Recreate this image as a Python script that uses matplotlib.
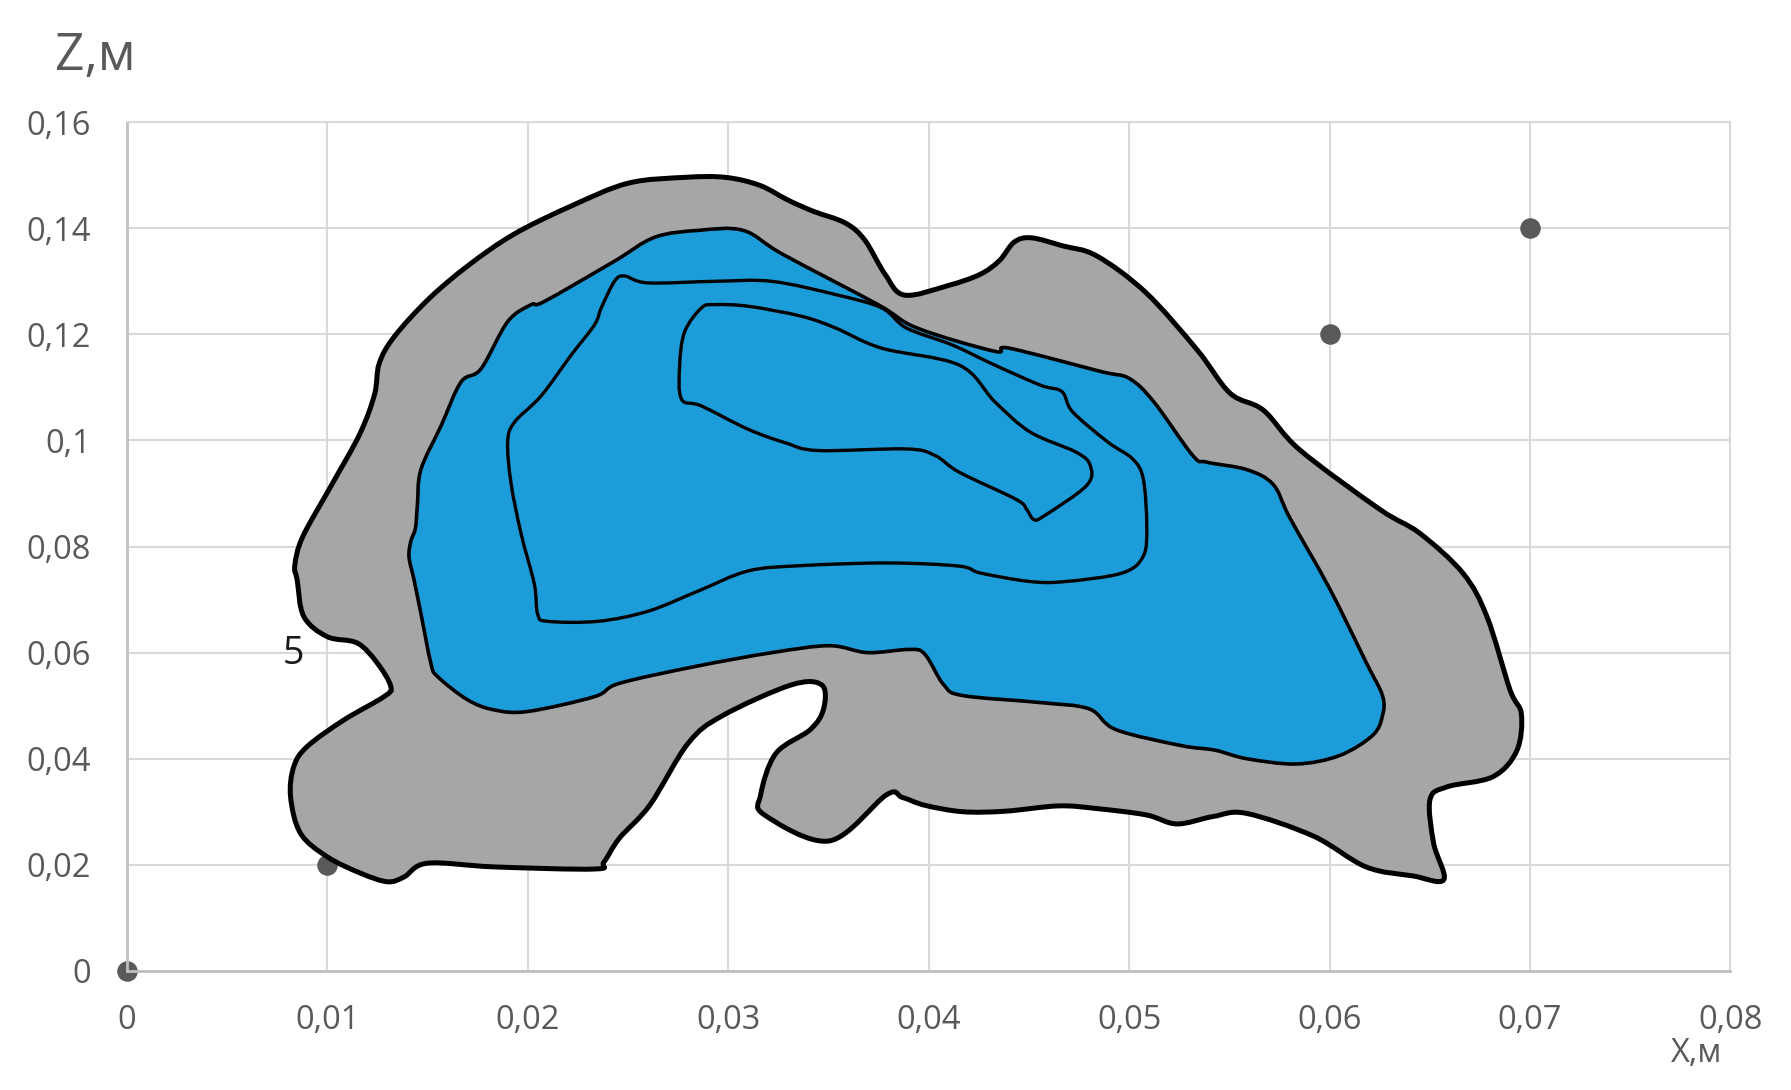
import matplotlib
matplotlib.use("Agg")
import matplotlib.pyplot as plt
from matplotlib.patches import PathPatch
from matplotlib.path import Path
import numpy as np

plt.rcParams['font.family'] = ['Open Sans', 'DejaVu Sans']

# x ticks / z ticks
x_ticks = [0, 0.01, 0.02, 0.03, 0.04, 0.05, 0.06, 0.07, 0.08]
x_labels = ['0', '0,01', '0,02', '0,03', '0,04', '0,05', '0,06', '0,07', '0,08']
z_ticks = [0, 0.02, 0.04, 0.06, 0.08, 0.10, 0.12, 0.14, 0.16]
z_labels = ['0', '0,02', '0,04', '0,06', '0,08', '0,1', '0,12', '0,14', '0,16']

# scatter points
pts_x = [0, 0.01, 0.06, 0.07]
pts_z = [0, 0.02, 0.12, 0.14]

# outer (gray) zone outline
gray_x = [0.00838, 0.00877, 0.01020, 0.01162, 0.01236, 0.01259, 0.01333, 0.01504,
          0.01704, 0.01932, 0.02217, 0.02501, 0.02786, 0.02986, 0.03157, 0.03299,
          0.03425, 0.03584, 0.03681, 0.03783, 0.03880, 0.04097, 0.04256, 0.04353,
          0.04427, 0.04513, 0.04667, 0.04838, 0.05083, 0.05339, 0.05504, 0.05670,
          0.05852, 0.06251, 0.06450, 0.06667, 0.06786, 0.06900, 0.06957, 0.06934,
          0.06815, 0.06587, 0.06501, 0.06519, 0.06570, 0.06416, 0.06182, 0.05920,
          0.05584, 0.05419, 0.05238, 0.05086, 0.04838, 0.04648, 0.04382, 0.04171,
          0.03983, 0.03869, 0.03790, 0.03505, 0.03181, 0.03162, 0.03238, 0.03410,
          0.03476, 0.03467, 0.03314, 0.02971, 0.02800, 0.02610, 0.02457, 0.02380,
          0.02333, 0.01833, 0.01500, 0.01383, 0.01300, 0.01167, 0.01000, 0.00867,
          0.00817, 0.00833, 0.00900, 0.01083, 0.01283, 0.01317, 0.01250, 0.01150,
          0.01000, 0.00883, 0.00850]
gray_z = [0.0764, 0.0818, 0.0915, 0.1012, 0.1087, 0.1145, 0.1195, 0.1266,
          0.1330, 0.1389, 0.1442, 0.1485, 0.1496, 0.1496, 0.1481, 0.1453,
          0.1432, 0.1410, 0.1378, 0.1313, 0.1274, 0.1292, 0.1313, 0.1339,
          0.1374, 0.1382, 0.1367, 0.1348, 0.1279, 0.1171, 0.1089, 0.1057,
          0.0982, 0.0870, 0.0825, 0.0749, 0.0667, 0.0530, 0.0484, 0.0415,
          0.0366, 0.0347, 0.0323, 0.0241, 0.0172, 0.0179, 0.0196, 0.0254,
          0.0297, 0.0291, 0.0277, 0.0294, 0.0306, 0.0311, 0.0301, 0.0300,
          0.0312, 0.0327, 0.0332, 0.0245, 0.0294, 0.0332, 0.0410, 0.0455,
          0.0494, 0.0539, 0.0539, 0.0481, 0.0429, 0.0313, 0.0250, 0.0205,
          0.0192, 0.0196, 0.0203, 0.0177, 0.0168, 0.0184, 0.0215, 0.0259,
          0.0328, 0.0385, 0.0423, 0.0473, 0.0517, 0.0536, 0.0580, 0.0618,
          0.0630, 0.0668, 0.0737]

# blue zone outline
blue_x = [0.01433, 0.01408, 0.01417, 0.01440, 0.01450, 0.01467, 0.01567, 0.01667,
          0.01767, 0.01900, 0.02017, 0.02083, 0.02433, 0.02633, 0.02850, 0.03075,
          0.03272, 0.03748, 0.03942, 0.04330, 0.04401, 0.04859, 0.05000, 0.05123,
          0.05317, 0.05388, 0.05587, 0.05719, 0.05802, 0.06000, 0.06182, 0.06264,
          0.06264, 0.06215, 0.06050, 0.05835, 0.05587, 0.05429, 0.05256, 0.04933,
          0.04800, 0.04552, 0.04171, 0.04076, 0.03981, 0.03905, 0.03695, 0.03505,
          0.03219, 0.02838, 0.02457, 0.02333, 0.02000, 0.01833, 0.01700, 0.01550,
          0.01517, 0.01467]
blue_z = [0.0737, 0.0780, 0.0810, 0.0835, 0.0880, 0.0945, 0.1027, 0.1110,
          0.1135, 0.1224, 0.1256, 0.1262, 0.1338, 0.1383, 0.1396, 0.1396,
          0.1351, 0.1256, 0.1212, 0.1168, 0.1174, 0.1130, 0.1117, 0.1073,
          0.0972, 0.0959, 0.0945, 0.0917, 0.0854, 0.0721, 0.0582, 0.0519,
          0.0481, 0.0444, 0.0406, 0.0390, 0.0400, 0.0416, 0.0425, 0.0455,
          0.0494, 0.0506, 0.0519, 0.0539, 0.0597, 0.0606, 0.0600, 0.0613,
          0.0600, 0.0574, 0.0542, 0.0517, 0.0489, 0.0492, 0.0511, 0.0555,
          0.0580, 0.0674]

# middle contour
mid_x = [0.02433, 0.02483, 0.02600, 0.02933, 0.03217, 0.03536, 0.03765, 0.03889,
         0.04118, 0.04330, 0.04559, 0.04665, 0.04718, 0.04894, 0.05018, 0.05071,
         0.05088, 0.05071, 0.04965, 0.04683, 0.04506, 0.04259, 0.04153, 0.03800,
         0.03367, 0.03100, 0.02850, 0.02600, 0.02350, 0.02100, 0.02050, 0.02033,
         0.01967, 0.01917, 0.01900, 0.01933, 0.02067, 0.02217, 0.02333, 0.02367]
mid_z = [0.1300, 0.1310, 0.1297, 0.1300, 0.1300, 0.1275, 0.1250, 0.1212,
         0.1180, 0.1142, 0.1104, 0.1092, 0.1054, 0.0997, 0.0965, 0.0927,
         0.0839, 0.0782, 0.0750, 0.0734, 0.0734, 0.0750, 0.0763, 0.0769,
         0.0764, 0.0754, 0.0716, 0.0678, 0.0659, 0.0659, 0.0672, 0.0729,
         0.0824, 0.0919, 0.0996, 0.1034, 0.1084, 0.1161, 0.1218, 0.1250]

# inner contour
inner_x = [0.02767, 0.02758, 0.02783, 0.02867, 0.02933, 0.03100, 0.03367, 0.03536,
           0.03765, 0.04153, 0.04330, 0.04506, 0.04735, 0.04806, 0.04788, 0.04577,
           0.04524, 0.04489, 0.04436, 0.04153, 0.04030, 0.03889, 0.03448, 0.03290,
           0.03100, 0.02867]
inner_z = [0.1078, 0.1142, 0.1205, 0.1250, 0.1256, 0.1253, 0.1234, 0.1212,
           0.1174, 0.1142, 0.1073, 0.1016, 0.0978, 0.0953, 0.0915, 0.0858,
           0.0851, 0.0870, 0.0889, 0.0940, 0.0972, 0.0984, 0.0981, 0.0995,
           0.1021, 0.1065]

GRAY = '#a6a6a6'
BLUE = '#1c9cd8'
TXT = '#595959'


def smooth_closed(xs, zs):
    """Closed Catmull-Rom outline through the traced points, drawn as cubic Beziers."""
    p = np.column_stack([xs, zs])
    n = len(p)
    verts = [p[0]]
    codes = [Path.MOVETO]
    for i in range(n):
        p0, p1, p2, p3 = p[i - 1], p[i], p[(i + 1) % n], p[(i + 2) % n]
        verts += [p1 + (p2 - p0) / 6, p2 - (p3 - p1) / 6, p2]
        codes += [Path.CURVE4] * 3
    verts.append(p[0])
    codes.append(Path.CLOSEPOLY)
    return Path(verts, codes)


fig = plt.figure(figsize=(17.91, 10.90), dpi=100)
ax = fig.add_axes([0.0708, 0.1093, 0.8954, 0.7786])

ax.scatter(pts_x, pts_z, s=190, color='#595959', zorder=1, clip_on=False)

ax.add_patch(PathPatch(smooth_closed(gray_x, gray_z), facecolor=GRAY,
                       edgecolor='black', linewidth=3.6, joinstyle='round', zorder=2))
ax.add_patch(PathPatch(smooth_closed(blue_x, blue_z), facecolor=BLUE,
                       edgecolor='black', linewidth=2.6, joinstyle='round', zorder=3))
ax.add_patch(PathPatch(smooth_closed(mid_x, mid_z), fill=False,
                       edgecolor='black', linewidth=2.4, joinstyle='round', zorder=4))
ax.add_patch(PathPatch(smooth_closed(inner_x, inner_z), fill=False,
                       edgecolor='black', linewidth=2.4, joinstyle='round', zorder=5))

ax.text(0.00832, 0.0598, '5', fontsize=27, color='#1a1a1a', ha='center', va='center', zorder=6)

ax.set_xlim(0, 0.08)
ax.set_ylim(0, 0.16)
ax.set_xticks(x_ticks)
ax.set_xticklabels(x_labels)
ax.set_yticks(z_ticks)
ax.set_yticklabels(z_labels)
ax.tick_params(axis='both', length=0, labelsize=23.5, labelcolor=TXT)
ax.tick_params(axis='x', pad=24)
ax.tick_params(axis='y', pad=26)
ax.grid(True, color='#d9d9d9', linewidth=1.5, zorder=0)
ax.set_axisbelow(True)
for side in ['top', 'right']:
    ax.spines[side].set_color('#d9d9d9')
    ax.spines[side].set_linewidth(1.5)
for side in ['left', 'bottom']:
    ax.spines[side].set_color('#bfbfbf')
    ax.spines[side].set_linewidth(2)

fig.text(0.0307, 0.9358, 'Z,м', fontsize=37, color=TXT, ha='left', va='baseline')
fig.text(0.9615, 0.0257, 'X,м', fontsize=23.5, color=TXT, ha='right', va='baseline')

fig.savefig('out.png', dpi=100)
